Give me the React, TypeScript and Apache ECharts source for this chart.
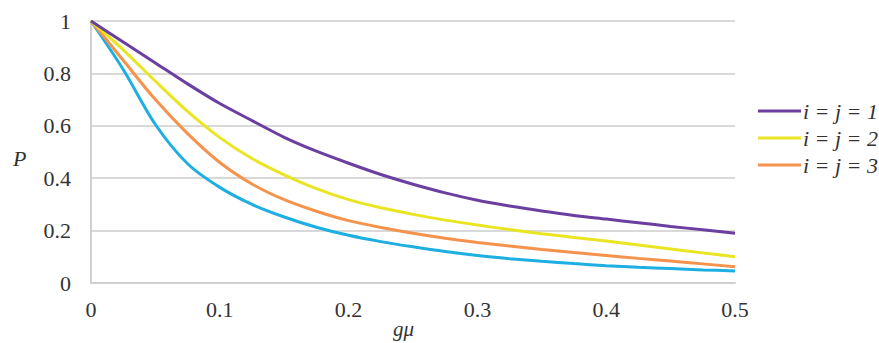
import React, { useEffect, useRef } from "react";
import * as echarts from "echarts";

const xValues = [0, 0.025, 0.05, 0.075, 0.1, 0.125, 0.15, 0.175, 0.2, 0.225, 0.25, 0.275, 0.3, 0.325, 0.35, 0.375, 0.4, 0.425, 0.45, 0.475, 0.5];
const seriesNames = ["i = j = 1", "i = j = 2", "i = j = 3", ""];
const p1 = [1, 0.92, 0.84, 0.76, 0.685, 0.62, 0.556, 0.503, 0.457, 0.414, 0.377, 0.344, 0.316, 0.294, 0.275, 0.258, 0.244, 0.23, 0.216, 0.203, 0.19];
const p2 = [1, 0.89, 0.77, 0.655, 0.555, 0.475, 0.413, 0.36, 0.318, 0.287, 0.262, 0.24, 0.221, 0.204, 0.188, 0.174, 0.16, 0.145, 0.13, 0.115, 0.1];
const p3 = [1, 0.85, 0.7, 0.57, 0.46, 0.378, 0.318, 0.274, 0.238, 0.212, 0.19, 0.171, 0.155, 0.141, 0.128, 0.116, 0.105, 0.094, 0.084, 0.073, 0.062];
const p4 = [1, 0.815, 0.605, 0.455, 0.365, 0.3, 0.252, 0.213, 0.182, 0.158, 0.138, 0.12, 0.105, 0.093, 0.083, 0.074, 0.066, 0.06, 0.055, 0.05, 0.046];
const colors = ["#6B3FA0", "#E9E523", "#F5924C", "#1DAEE2"];

export default function App() {
  const ref = useRef<HTMLDivElement>(null);
  useEffect(() => {
    if (!ref.current) return;
    const chart = echarts.init(ref.current, null, { renderer: "svg" });
    const all = [p1, p2, p3, p4];
    const font = "Liberation Serif";
    chart.setOption({
      animation: false,
      grid: { left: 91, right: 144, top: 21, bottom: 60 },
      legend: {
        data: seriesNames.slice(0, 3),
        orient: "vertical",
        left: 753,
        top: 95,
        icon: "rect",
        itemWidth: 43,
        itemHeight: 3,
        itemGap: 5,
        textStyle: { fontFamily: font, fontStyle: "italic", fontSize: 22, lineHeight: 22, color: "#333", padding: [0, 0, 0, -3] },
      },
      xAxis: {
        type: "value",
        min: 0,
        max: 0.5,
        interval: 0.1,
        axisLine: { show: true, lineStyle: { color: "#D0D0D0", width: 2 } },
        axisTick: { show: false },
        splitLine: { show: false },
        axisLabel: { fontFamily: font, fontSize: 22, color: "#333", margin: 15 },
      },
      yAxis: {
        type: "value",
        min: 0,
        max: 1,
        interval: 0.2,
        axisLine: { show: true, lineStyle: { color: "#D0D0D0", width: 2 } },
        axisTick: { show: false },
        splitLine: { show: true, lineStyle: { color: "#D9D9D9", width: 2 } },
        axisLabel: { fontFamily: font, fontSize: 22, color: "#333", margin: 20 },
      },
      graphic: [
        { type: "text", left: 13, top: 147, style: { text: "P", fontFamily: font, fontStyle: "italic", fontSize: 22, fill: "#333" } },
        { type: "text", left: 393, top: 318, style: { text: "gμ", fontFamily: font, fontStyle: "italic", fontSize: 21, fill: "#333" } },
      ],
      series: all.map((d, i) => ({
        name: seriesNames[i],
        type: "line",
        data: xValues.map((x, k) => [x, d[k]]),
        smooth: 0.3,
        showSymbol: false,
        symbol: "none",
        lineStyle: { color: colors[i], width: 3 },
        itemStyle: { color: colors[i] },
        z: 10 - i,
      })),
    });
    return () => chart.dispose();
  }, []);
  return <div ref={ref} style={{ width: 879, height: 343, position: "absolute", left: 0, top: 0, background: "#fff" }} />;
}
